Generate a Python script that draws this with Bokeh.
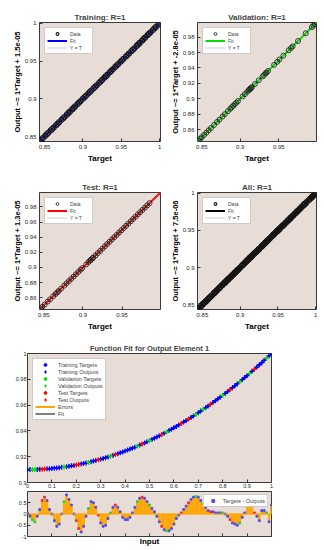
from bokeh.plotting import figure
from bokeh.layouts import column, row
from bokeh.models import Range1d, FixedTicker, CustomJSTickFormatter, Legend, Label, Span
from bokeh.embed import file_html
from bokeh.resources import INLINE

FONT = "Liberation Sans"
SERIF = "Liberation Serif"
BG = "#E8DDD6"
AXC = "#3a3a3a"
ORANGE = "#FFA500"

# ---------------- regression panels (d) ----------------
reg_titles = ["Training: R=1", "Validation: R=1", "Test: R=1", "All: R=1"]
reg_slopes = [1, 1, 1, 1]
reg_intercepts = [1.5e-05, -2.8e-05, 1.3e-05, 7.5e-06]
reg_ylabels = ["Output ~= 1*Target + 1.5e-05", "Output ~= 1*Target + -2.8e-05",
               "Output ~= 1*Target + 1.3e-05", "Output ~= 1*Target + 7.5e-06"]
reg_fit_colors = ["#0000FF", "#00E000", "#FF0000", "#000000"]
reg_lo = [0.8435, 0.8445, 0.8445, 0.8435]
reg_hi = [1.001, 0.999, 0.999, 1.001]
ticks_coarse = [0.85, 0.9, 0.95, 1.0]
ticks_fine = [0.86, 0.88, 0.9, 0.92, 0.94, 0.96, 0.98]
ticks_x3 = [0.85, 0.9, 0.95]

train_targets = [0.8435, 0.846, 0.848, 0.851, 0.853, 0.855, 0.858, 0.860, 0.862, 0.865,
                 0.867, 0.869, 0.872, 0.874, 0.876, 0.879, 0.881, 0.883, 0.886, 0.888,
                 0.890, 0.893, 0.895, 0.897, 0.900, 0.902, 0.904, 0.907, 0.909, 0.911,
                 0.914, 0.916, 0.918, 0.921, 0.923, 0.925, 0.928, 0.930, 0.932, 0.935,
                 0.937, 0.939, 0.942, 0.944, 0.946, 0.949, 0.951, 0.953, 0.956, 0.958,
                 0.960, 0.963, 0.965, 0.967, 0.970, 0.972, 0.974, 0.977, 0.979, 0.981,
                 0.984, 0.986, 0.988, 0.991, 0.993, 0.995, 0.998, 1.000]
val_targets = [0.8455, 0.848, 0.850, 0.853, 0.856, 0.859, 0.862, 0.866, 0.870, 0.873,
               0.877, 0.880, 0.884, 0.887, 0.889, 0.891, 0.893, 0.895, 0.897, 0.903,
               0.906, 0.909, 0.911, 0.912, 0.913, 0.914, 0.915, 0.919, 0.924, 0.929,
               0.931, 0.933, 0.934, 0.936, 0.944, 0.948, 0.951, 0.956, 0.963, 0.966,
               0.968, 0.975, 0.985, 0.993, 0.995, 0.997, 0.999]
test_targets = [0.8455, 0.848, 0.851, 0.855, 0.858, 0.862, 0.865, 0.867, 0.869, 0.872,
                0.876, 0.879, 0.882, 0.885, 0.888, 0.891, 0.894, 0.897, 0.899, 0.904,
                0.907, 0.909, 0.910, 0.912, 0.913, 0.916, 0.919, 0.922, 0.925, 0.928,
                0.931, 0.934, 0.937, 0.940, 0.943, 0.946, 0.949, 0.952, 0.955, 0.958,
                0.961, 0.964, 0.967, 0.970, 0.973, 0.976, 0.979, 0.982, 0.985]
# R = 1: outputs coincide with targets
train_outputs = list(train_targets)
val_outputs = list(val_targets)
test_outputs = list(test_targets)
all_targets = train_targets + val_targets + test_targets
all_outputs = train_outputs + val_outputs + test_outputs

# ---------------- function fit panel (e) ----------------
fit_x = [0.00, 0.01, 0.02, 0.03, 0.04, 0.05, 0.06, 0.07, 0.08, 0.09,
         0.10, 0.11, 0.12, 0.13, 0.14, 0.15, 0.16, 0.17, 0.18, 0.19,
         0.20, 0.21, 0.22, 0.23, 0.24, 0.25, 0.26, 0.27, 0.28, 0.29,
         0.30, 0.31, 0.32, 0.33, 0.34, 0.35, 0.36, 0.37, 0.38, 0.39,
         0.40, 0.41, 0.42, 0.43, 0.44, 0.45, 0.46, 0.47, 0.48, 0.49,
         0.50, 0.51, 0.52, 0.53, 0.54, 0.55, 0.56, 0.57, 0.58, 0.59,
         0.60, 0.61, 0.62, 0.63, 0.64, 0.65, 0.66, 0.67, 0.68, 0.69,
         0.70, 0.71, 0.72, 0.73, 0.74, 0.75, 0.76, 0.77, 0.78, 0.79,
         0.80, 0.81, 0.82, 0.83, 0.84, 0.85, 0.86, 0.87, 0.88, 0.89,
         0.90, 0.91, 0.92, 0.93, 0.94, 0.95, 0.96, 0.97, 0.98, 0.99,
         1.00]
fit_targets = [0.9100, 0.9100, 0.9100, 0.9101, 0.9101, 0.9102, 0.9103, 0.9104, 0.9106, 0.9107,
               0.9109, 0.9111, 0.9113, 0.9115, 0.9118, 0.9120, 0.9123, 0.9126, 0.9129, 0.9132,
               0.9136, 0.9140, 0.9144, 0.9148, 0.9152, 0.9156, 0.9161, 0.9166, 0.9171, 0.9176,
               0.9181, 0.9186, 0.9192, 0.9198, 0.9204, 0.9210, 0.9217, 0.9223, 0.9230, 0.9237,
               0.9244, 0.9251, 0.9259, 0.9266, 0.9274, 0.9282, 0.9290, 0.9299, 0.9307, 0.9316,
               0.9325, 0.9334, 0.9343, 0.9353, 0.9362, 0.9372, 0.9382, 0.9392, 0.9403, 0.9413,
               0.9424, 0.9435, 0.9446, 0.9457, 0.9469, 0.9480, 0.9492, 0.9504, 0.9516, 0.9528,
               0.9541, 0.9554, 0.9567, 0.9580, 0.9593, 0.9606, 0.9620, 0.9634, 0.9648, 0.9662,
               0.9676, 0.9690, 0.9705, 0.9720, 0.9735, 0.9750, 0.9766, 0.9781, 0.9797, 0.9813,
               0.9829, 0.9845, 0.9862, 0.9878, 0.9895, 0.9912, 0.9929, 0.9947, 0.9964, 0.9982,
               1.0000]
# errors (targets - outputs), in units of 1e-5
fit_errors = [0.05, -0.1, -0.25, -0.35, -0.1, 0.2, 0.6, 0.75, 0.6, 0.2,
              0.0, -0.3, -0.55, -0.45, 0.0, 0.55, 0.85, 0.65, 0.4, 0.0,
              -0.3, -0.65, -0.8, -0.55, -0.1, 0.25, 0.55, 0.5, 0.3, -0.05,
              -0.4, -0.55, -0.5, -0.2, 0.05, 0.3, 0.4, 0.3, 0.1, -0.15,
              -0.25, -0.25, -0.15, 0.05, 0.3, 0.55, 0.7, 0.75, 0.7, 0.55,
              0.4, 0.25, 0.1, -0.1, -0.35, -0.55, -0.7, -0.75, -0.75, -0.65,
              -0.45, -0.2, -0.05, 0.05, 0.2, 0.35, 0.5, 0.65, 0.75, 0.78,
              0.75, 0.6, 0.45, 0.3, 0.15, 0.1, 0.1, 0.05, 0.05, 0.05,
              0.05, 0.0, -0.1, -0.25, -0.4, -0.45, -0.5, -0.4, -0.15, 0.05,
              0.5, 0.5, 0.5, 0.05, -0.1, -0.3, 0.15, 0.15, 0.05, -0.35,
              0.4]
val_idx = [2, 3, 15, 25, 34, 45, 50, 57, 69, 72, 80, 87, 91, 98]
test_idx = [6, 7, 20, 21, 29, 36, 47, 55, 63, 66, 75, 83, 93]
fit_xticks = [0, 0.1, 0.2, 0.3, 0.4, 0.5, 0.6, 0.7, 0.8, 0.9, 1.0]
fit_yticks = [0.9, 0.92, 0.94, 0.96, 0.98, 1.0]
err_yticks = [-1, -0.5, 0, 0.5]

fit_outputs = [t - e * 1e-5 for t, e in zip(fit_targets, fit_errors)]
train_idx = [i for i in range(len(fit_x)) if i not in val_idx and i not in test_idx]

FMT = CustomJSTickFormatter(code="return String(parseFloat(tick.toFixed(4)));")
NOFMT = CustomJSTickFormatter(code="return '';")


def style_axes(p, fs="6px", std=3):
    for ax in (p.xaxis[0], p.yaxis[0]):
        ax.major_tick_in = 3
        ax.major_tick_out = 0
        ax.minor_tick_in = 0
        ax.minor_tick_out = 0
        ax.axis_line_color = None
        ax.major_tick_line_color = AXC
        ax.major_label_text_font = FONT
        ax.major_label_text_font_size = fs
        ax.major_label_text_color = "#262626"
        ax.major_label_standoff = std
        ax.axis_label_text_font = FONT
        ax.axis_label_text_font_style = "bold"
        ax.axis_label_text_color = "black"
        ax.formatter = FMT


def style_legend(lg, fs, gw, gh, lh, loc, margin):
    lg.location = loc
    lg.label_text_font = FONT
    lg.label_text_font_size = fs
    lg.glyph_width = gw
    lg.glyph_height = gh
    lg.label_height = lh
    lg.spacing = 0
    lg.padding = 2
    lg.margin = margin
    lg.label_standoff = 3
    lg.border_line_color = "#9a9a9a"
    lg.border_line_width = 0.8
    lg.background_fill_color = "white"
    lg.background_fill_alpha = 1


def reg_fig(k, targets, outputs, xticks, yticks, bl, br, bt, bb, fw, fh, circ_w):
    lo, hi = reg_lo[k], reg_hi[k]
    p = figure(width=bl + fw + br, height=bt + fh + bb,
               x_range=Range1d(lo, hi), y_range=Range1d(lo, hi),
               output_backend="svg", toolbar_location=None,
               min_border_left=bl, min_border_right=br,
               min_border_top=bt, min_border_bottom=bb,
               background_fill_color=BG, border_fill_color="white",
               outline_line_color=AXC, outline_line_width=1)
    p.grid.visible = False
    p.title.text = reg_titles[k]
    p.title.align = "center"
    p.title.text_font = FONT
    p.title.text_font_size = "8px"
    p.title.text_font_style = "bold"
    p.title.standoff = 1
    p.title.offset = 0
    style_axes(p, "6px", 3)
    p.xaxis.ticker = FixedTicker(ticks=xticks)
    p.yaxis.ticker = FixedTicker(ticks=yticks)
    p.xaxis.axis_label = "Target"
    p.xaxis.axis_label_text_font_size = "8px"
    p.xaxis.axis_label_standoff = 2
    p.yaxis.axis_label = reg_ylabels[k]
    p.yaxis.axis_label_text_font_size = "7.5px"
    p.yaxis.axis_label_standoff = 0
    fx = [lo, hi]
    fy = [reg_slopes[k] * v + reg_intercepts[k] for v in fx]
    r_fit = p.line(fx, fy, color=reg_fit_colors[k], line_width=2)
    r_yt = p.line(fx, fx, color="#8a8a8a", line_dash="1 1", line_width=0.8)
    r_data = p.scatter(targets, outputs, marker="circle", size=5, fill_color=None,
                       line_color="#151515", line_width=circ_w)
    lg = Legend(items=[("Data", [r_data]), ("Fit", [r_fit]), ("Y = T", [r_yt])])
    style_legend(lg, "5px", 20, 7, 7, "top_left", 5)
    p.add_layout(lg)
    return p


pA = reg_fig(0, train_targets, train_outputs, ticks_coarse, ticks_coarse, 39, 5, 22, 29, 121, 119, 1.1)
pB = reg_fig(1, val_targets, val_outputs, ticks_x3, ticks_fine, 32, 1, 22, 29, 119, 119, 0.8)
pB.add_layout(Label(x=115, y=132, x_units="screen", y_units="screen", text="(d)",
                    text_font=SERIF, text_font_style="bold", text_font_size="8px",
                    text_align="center", text_baseline="middle"))
pC = reg_fig(2, test_targets, test_outputs, ticks_x3, ticks_fine, 39, 5, 22, 22, 121, 119, 0.8)
pD = reg_fig(3, all_targets, all_outputs, ticks_coarse, ticks_coarse, 32, 1, 22, 22, 119, 119, 1.1)

# ---------------- function fit figure ----------------
set_specs = [("Training", train_idx, "#0000FF", "#5050F0"),
             ("Validation", val_idx, "#00E000", "#30D030"),
             ("Test", test_idx, "#FF0000", "#F03030")]

pF = figure(width=27 + 244 + 8, height=20 + 129 + 9,
            x_range=Range1d(0, 1), y_range=Range1d(0.9, 1.0),
            output_backend="svg", toolbar_location=None,
            min_border_left=27, min_border_right=8, min_border_top=20, min_border_bottom=9,
            background_fill_color=BG, border_fill_color="white",
            outline_line_color=AXC, outline_line_width=1)
pF.grid.visible = False
pF.title.text = "Function Fit for Output Element 1"
pF.title.align = "center"
pF.title.text_font = FONT
pF.title.text_font_size = "7.5px"
pF.title.text_font_style = "bold"
pF.title.standoff = 1
pF.title.offset = 0
style_axes(pF, "5.5px", 1)
pF.xaxis.ticker = FixedTicker(ticks=fit_xticks)
pF.yaxis.ticker = FixedTicker(ticks=fit_yticks)

r_fitline = pF.line(fit_x, fit_outputs, color="black", line_width=1)
items = []
for name, idx, col, _ in set_specs:
    xs = [fit_x[i] for i in idx]
    ts = [fit_targets[i] for i in idx]
    os_ = [fit_outputs[i] for i in idx]
    rt = pF.scatter(xs, ts, marker="circle", size=2, color=col)
    ro = pF.scatter(xs, os_, marker="cross", size=5, line_color=col, line_width=1.2)
    items.append((name + " Targets", [rt]))
    items.append((name + " Outputs", [ro]))
r_err_key = pF.line([float("nan")], [float("nan")], color=ORANGE, line_width=2)
items.append(("Errors", [r_err_key]))
items.append(("Fit", [r_fitline]))
lgF = Legend(items=items)
style_legend(lgF, "5.5px", 20, 7, 7, "top_left", 5)
pF.add_layout(lgF)
pF.add_layout(Label(x=-20, y=64.5, x_units="screen", y_units="screen", text="Output and Target",
                    angle=90, angle_units="deg", text_font=FONT, text_font_style="bold",
                    text_font_size="7.5px", text_align="center", text_baseline="middle"))
pF.add_layout(Label(x=245, y=137, x_units="screen", y_units="screen", text="(e)",
                    text_font=SERIF, text_font_style="bold italic", text_font_size="8px",
                    text_align="center", text_baseline="middle"))
pF.add_layout(Label(x=3, y=-2, x_units="screen", y_units="screen", text="×10⁻⁵",
                    text_font=FONT, text_font_size="5px", text_align="left",
                    text_baseline="middle", text_color="#262626"))

# ---------------- error figure ----------------
pE = figure(width=27 + 244 + 8, height=0 + 47 + 10,
            x_range=Range1d(0, 1), y_range=Range1d(-1, 1),
            output_backend="svg", toolbar_location=None,
            min_border_left=27, min_border_right=8, min_border_top=0, min_border_bottom=10,
            background_fill_color=BG, border_fill_color="white",
            outline_line_color=AXC, outline_line_width=1)
pE.grid.visible = False
style_axes(pE, "5.5px", 1)
pE.xaxis.ticker = FixedTicker(ticks=fit_xticks)
pE.yaxis.ticker = FixedTicker(ticks=err_yticks)
pE.xaxis.formatter = NOFMT
pE.xaxis.major_label_standoff = 0
pE.xaxis.axis_label = "Input"
pE.xaxis.axis_label_text_font_size = "8px"
pE.xaxis.axis_label_standoff = 0
pE.add_layout(Span(location=0, dimension="width", line_color=ORANGE, line_width=1))
pE.vbar(x=fit_x, top=fit_errors, bottom=0, width=0.006, color=ORANGE)
tip_r = []
for name, idx, _, tipcol in set_specs:
    xs = [fit_x[i] for i in idx]
    es = [fit_errors[i] for i in idx]
    tip_r.append(pE.scatter(xs, es, marker="square", size=1.8, color=tipcol))
lgE = Legend(items=[("Targets - Outputs", [tip_r[0]])])
style_legend(lgE, "5.5px", 14, 7, 7, "top_right", 3)
pE.add_layout(lgE)
pE.add_layout(Label(x=-15, y=23.5, x_units="screen", y_units="screen", text="Error",
                    angle=90, angle_units="deg", text_font=FONT, text_font_style="bold",
                    text_font_size="7.5px", text_align="center", text_baseline="middle"))

layout = column(row(pA, pB), row(pC, pD), pF, pE)
open("out.html", "w").write(file_html(layout, INLINE))
